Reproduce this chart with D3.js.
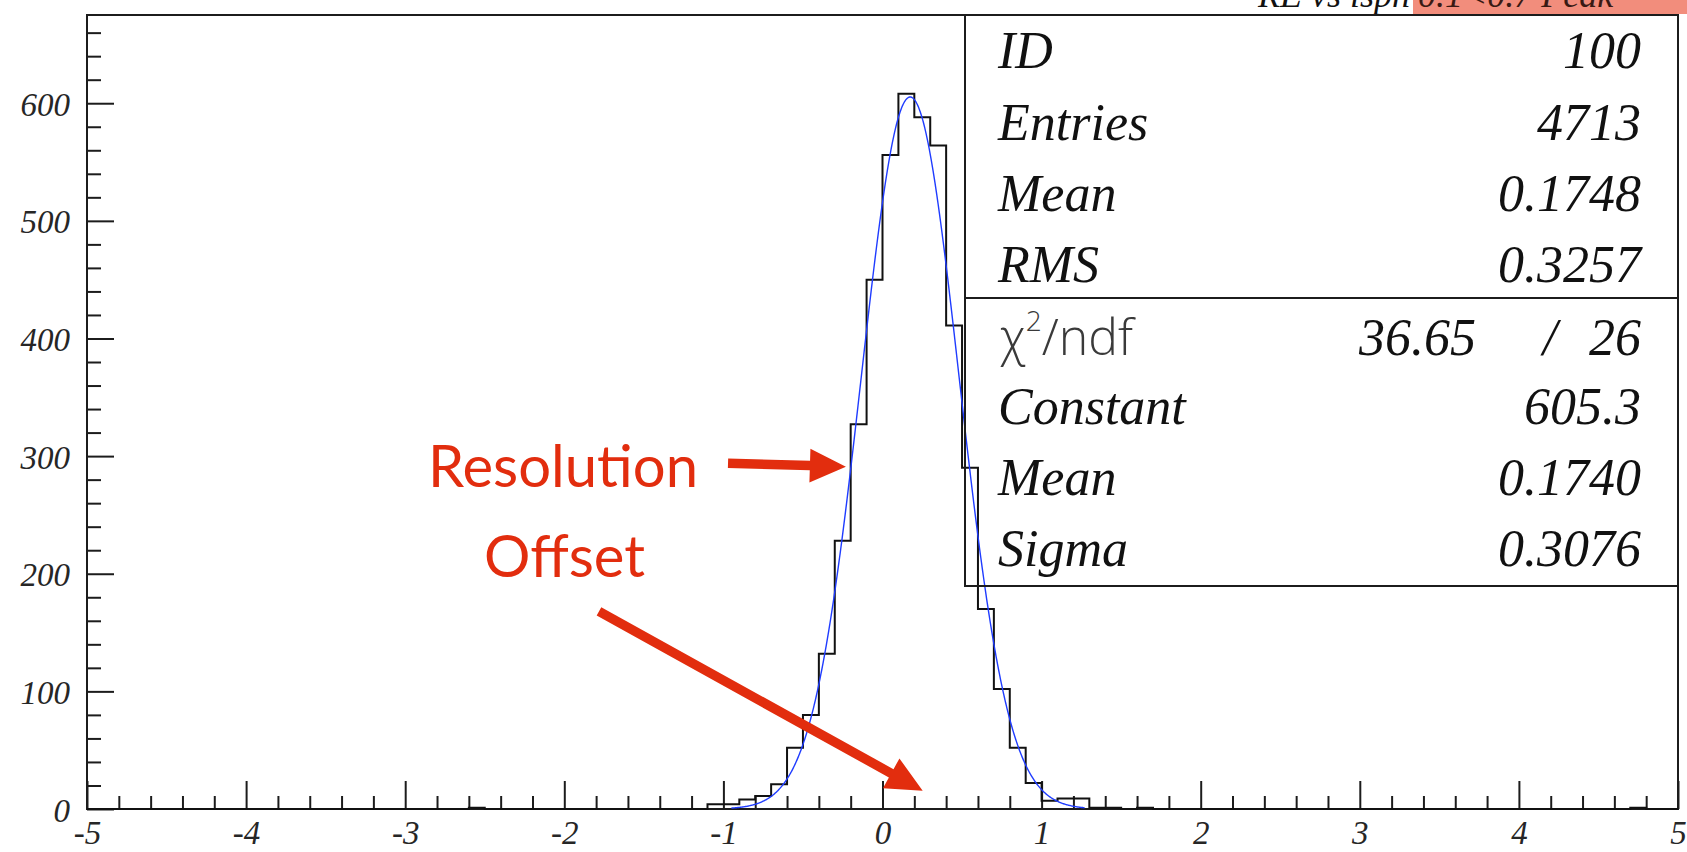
<!DOCTYPE html>
<html>
<head>
<meta charset="utf-8">
<script src="https://cdn.jsdelivr.net/npm/d3@7"></script>
<style>
  html, body { margin: 0; padding: 0; background: #fff; overflow: hidden; }
  svg { display: block; }
</style>
</head>
<body>
<svg id="chart" width="1687" height="852"></svg>
<script>
// ---- histogram contents: low edge of each non-empty bin and its count ----
const binWidth = 0.1;
const binLowEdges = [-2.6, -1.1, -1.0, -0.9, -0.8, -0.7, -0.6, -0.5, -0.4, -0.3, -0.2, -0.1,
                     0.0, 0.1, 0.2, 0.3, 0.4, 0.5, 0.6, 0.7, 0.8, 0.9, 1.0, 1.1, 1.2, 1.3, 1.4, 1.6, 4.7];
const binCounts   = [1, 4, 4, 8, 11, 21, 52, 80, 132, 228, 327, 450,
                     556, 608, 588, 564, 411, 290, 170, 102, 52, 22, 7, 9, 9, 1, 1, 1, 1];

// ---- axes ----
const xDomain = [-5, 5];
const yDomain = [0, 675];
const xMajorTicks = [-5, -4, -3, -2, -1, 0, 1, 2, 3, 4, 5];
const yMajorTicks = [0, 100, 200, 300, 400, 500, 600];
const xMinorStep = 0.2;
const yMinorStep = 20;

// ---- statistics box ----
const statLabels = ["ID", "Entries", "Mean", "RMS"];
const statValues = ["100", "4713", "0.1748", "0.3257"];
const chi2Value = "36.65";
const ndfValue = "26";
const fitLabels = ["Constant", "Mean", "Sigma"];
const fitValues = [605.3, 0.1740, 0.3076];
const fitValueText = ["605.3", "0.1740", "0.3076"];
const fitRange = [-0.95, 1.27];

// ---- annotations (data coordinates) ----
const noteLabels = ["Resolution", "Offset"];
const noteAnchors = [[-2.857, 274], [-2.505, 197]];
const arrowStarts = [[-0.971, 294], [-1.782, 168]];
const arrowTips   = [[-0.230, 291], [0.2526, 15.5]];

const titleText = "RE vs ispn";
const titleTail = "0.1<0.7  Peak";

// ---- layout ----
const W = 1687, H = 852;
const frame = { left: 87, top: 15, right: 1678, bottom: 809 };
const ink = "#1c1c1c";
const red = "#e22d0e";
const serif = "'Liberation Serif', 'Times New Roman', serif";

const svg = d3.select("#chart");

const x = d3.scaleLinear().domain(xDomain).range([frame.left, frame.right]);
const y = d3.scaleLinear().domain(yDomain).range([frame.bottom, frame.top]);

// title strip along the top edge of the page
svg.append("rect")
  .attr("x", 1413).attr("y", 0).attr("width", W - 1413).attr("height", 14)
  .attr("fill", "#f28d7c");
svg.append("text")
  .attr("x", 1410).attr("y", 7)
  .attr("text-anchor", "end")
  .attr("font-family", serif).attr("font-style", "italic").attr("font-size", 36)
  .attr("fill", "#111")
  .text(titleText);
svg.append("text")
  .attr("x", 1418).attr("y", 7)
  .attr("font-family", serif).attr("font-style", "italic").attr("font-size", 36)
  .attr("fill", "#3a1a14")
  .text(titleTail);

// minor ticks
const xMinor = d3.range(xDomain[0], xDomain[1] + 1e-9, xMinorStep)
  .filter(v => Math.abs(v - Math.round(v)) > 1e-6);
const yMinor = d3.range(yDomain[0], yDomain[1], yMinorStep)
  .filter(v => v % 100 !== 0);

const gx = svg.append("g").attr("transform", `translate(0,${frame.bottom})`);
gx.call(d3.axisBottom(x).tickValues(xMinor).tickSizeInner(-13).tickSizeOuter(0).tickFormat(""));
gx.append("g").call(d3.axisBottom(x).tickValues(xMajorTicks).tickSizeInner(-28).tickSizeOuter(0)
  .tickFormat(d => String(d)));
const gy = svg.append("g").attr("transform", `translate(${frame.left},0)`);
gy.call(d3.axisLeft(y).tickValues(yMinor).tickSizeInner(-14).tickSizeOuter(0).tickFormat(""));
gy.append("g").call(d3.axisLeft(y).tickValues(yMajorTicks).tickSizeInner(-27).tickSizeOuter(0));

svg.selectAll(".domain").remove();
svg.selectAll(".tick line").attr("stroke", ink).attr("stroke-width", 2);
svg.selectAll(".tick text")
  .attr("font-family", serif).attr("font-style", "italic").attr("font-size", 33)
  .attr("fill", "#262626");
gx.selectAll(".tick text").attr("y", 35).attr("dy", 0);
gy.selectAll(".tick text").attr("x", -17).attr("dy", 12);

// frame
svg.append("rect")
  .attr("x", frame.left).attr("y", frame.top)
  .attr("width", frame.right - frame.left).attr("height", frame.bottom - frame.top)
  .attr("fill", "none").attr("stroke", ink).attr("stroke-width", 2);

// histogram outline
const nBins = Math.round((xDomain[1] - xDomain[0]) / binWidth);
const counts = new Array(nBins).fill(0);
binLowEdges.forEach((e, i) => {
  counts[Math.round((e - xDomain[0]) / binWidth)] = binCounts[i];
});
const stepPts = [];
counts.forEach((c, i) => {
  const lo = xDomain[0] + i * binWidth;
  stepPts.push([lo, c], [lo + binWidth, c]);
});
svg.append("path")
  .attr("d", d3.line().x(d => x(d[0])).y(d => y(d[1]))(stepPts))
  .attr("fill", "none").attr("stroke", "#111").attr("stroke-width", 2);

// gaussian fit
const [fConst, fMean, fSigma] = fitValues;
const gauss = v => fConst * Math.exp(-0.5 * Math.pow((v - fMean) / fSigma, 2));
const fitPts = d3.range(fitRange[0], fitRange[1] + 1e-9, 0.004).map(v => [v, gauss(v)]);
svg.append("path")
  .attr("d", d3.line().x(d => x(d[0])).y(d => y(d[1]))(fitPts))
  .attr("fill", "none").attr("stroke", "#1f3cff").attr("stroke-width", 1.4);

// statistics box
const box = { left: 965, top: 15, right: 1678, bottom: 586, split: 298 };
svg.append("rect")
  .attr("x", box.left).attr("y", box.top)
  .attr("width", box.right - box.left).attr("height", box.bottom - box.top)
  .attr("fill", "none").attr("stroke", ink).attr("stroke-width", 2);
svg.append("line")
  .attr("x1", box.left).attr("x2", box.right).attr("y1", box.split).attr("y2", box.split)
  .attr("stroke", ink).attr("stroke-width", 2);

const labelX = 998, valueX = 1641;
const statFont = sel => sel.attr("font-family", serif).attr("font-style", "italic")
  .attr("font-size", 52).attr("fill", "#111");
const topRows = [68, 140, 211, 282];
statLabels.forEach((t, i) => {
  svg.append("text").attr("x", labelX).attr("y", topRows[i]).call(statFont).text(t);
  svg.append("text").attr("x", valueX).attr("y", topRows[i]).attr("text-anchor", "end")
    .call(statFont).text(statValues[i]);
});

const chiRow = 355;
const chi = svg.append("text").attr("x", 1000).attr("y", chiRow)
  .attr("font-family", "'Open Sans', 'DejaVu Sans', sans-serif").attr("font-weight", 300)
  .attr("font-size", 50).attr("fill", "#3a3a3a");
chi.append("tspan").text("χ");
chi.append("tspan").attr("font-size", 28).attr("dy", -24).text("2");
chi.append("tspan").attr("dy", 24).text("/ndf");
svg.append("text").attr("x", 1476).attr("y", chiRow).attr("text-anchor", "end").call(statFont).text(chi2Value);
svg.append("text").attr("x", 1550).attr("y", chiRow).attr("text-anchor", "middle").call(statFont).text("/");
svg.append("text").attr("x", valueX).attr("y", chiRow).attr("text-anchor", "end").call(statFont).text(ndfValue);

const fitRows = [424, 495, 566];
fitLabels.forEach((t, i) => {
  svg.append("text").attr("x", labelX).attr("y", fitRows[i]).call(statFont).text(t);
  svg.append("text").attr("x", valueX).attr("y", fitRows[i]).attr("text-anchor", "end")
    .call(statFont).text(fitValueText[i]);
});

// annotations
noteLabels.forEach((t, i) => {
  svg.append("text")
    .attr("x", x(noteAnchors[i][0])).attr("y", y(noteAnchors[i][1]))
    .attr("font-family", "Lato, 'Open Sans', sans-serif").attr("font-size", 58)
    .attr("fill", red).text(t);
});

function arrowPolygon(p0, p1, shaft, headLen, headHalf) {
  const dx = p1[0] - p0[0], dy = p1[1] - p0[1];
  const len = Math.hypot(dx, dy), ux = dx / len, uy = dy / len;
  const px = -uy, py = ux;
  const bx = p1[0] - ux * headLen, by = p1[1] - uy * headLen;
  const s = shaft / 2;
  return [
    [p0[0] + px * s, p0[1] + py * s],
    [bx + px * s, by + py * s],
    [bx + px * headHalf, by + py * headHalf],
    p1,
    [bx - px * headHalf, by - py * headHalf],
    [bx - px * s, by - py * s],
    [p0[0] - px * s, p0[1] - py * s]
  ];
}
arrowStarts.forEach((s, i) => {
  const p0 = [x(s[0]), y(s[1])];
  const p1 = [x(arrowTips[i][0]), y(arrowTips[i][1])];
  svg.append("path")
    .attr("d", "M" + arrowPolygon(p0, p1, 9.5, 36, 17).map(p => p.join(",")).join("L") + "Z")
    .attr("fill", red);
});
</script>
</body>
</html>
